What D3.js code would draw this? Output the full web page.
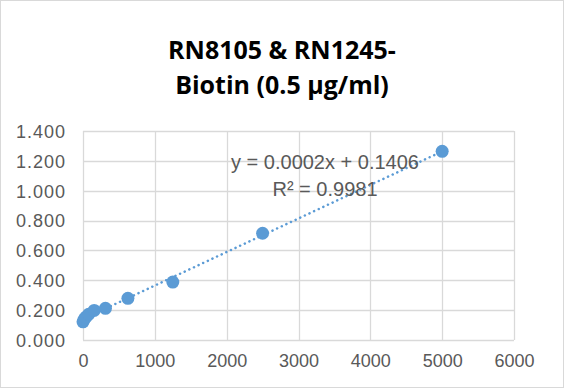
<!DOCTYPE html>
<html>
<head>
<meta charset="utf-8">
<script src="https://cdn.jsdelivr.net/npm/d3@7"></script>
<style>
body { margin: 0; background: #fff; }
</style>
</head>
<body>
<div id="container"></div>
<script>
var concentrations = [0, 19.5, 39, 78, 156, 312.5, 625, 1250, 2500, 5000];
var absorbance = [0.122, 0.140, 0.153, 0.172, 0.198, 0.212, 0.279, 0.388, 0.715, 1.264];
var xTicks = [0, 1000, 2000, 3000, 4000, 5000, 6000];
var yTicks = [0, 0.2, 0.4, 0.6, 0.8, 1.0, 1.2, 1.4];
var titleLines = ["RN8105 & RN1245-", "Biotin (0.5 \u03bcg/ml)"];
var equationLines = ["y = 0.0002x + 0.1406", "R\u00b2 = 0.9981"];

var W = 564, H = 388;
var margin = {top: 131, right: 50, bottom: 48, left: 83},
    width = 514 - margin.left,
    height = 340 - margin.top;

var svg = d3.select("#container")
    .append("svg")
        .attr("width", W)
        .attr("height", H);

// outer chart frame
svg.append("rect")
    .attr("x", 0.5).attr("y", 0.5)
    .attr("width", W - 1).attr("height", H - 1)
    .attr("fill", "#fff")
    .attr("stroke", "#d9d9d9");

svg.selectAll(".title")
    .data(titleLines)
    .enter()
    .append("text")
    .attr("class", "title")
    .attr("x", 282)
    .attr("y", function(d, i) { return 59 + i * 35; })
    .attr("text-anchor", "middle")
    .attr("font-family", "Open Sans, Liberation Sans, sans-serif")
    .attr("font-weight", "bold")
    .attr("font-size", "25px")
    .attr("fill", "#000")
    .text(function(d) { return d; });

var g = svg.append("g")
    .attr("transform", "translate(" + margin.left + "," + margin.top + ")");

var x = d3.scaleLinear().domain([0, 6000]).range([0, width]);
var y = d3.scaleLinear().domain([0, 1.4]).range([height, 0]);

// gridlines
g.selectAll(".hgrid")
    .data(yTicks)
    .enter()
    .append("line")
    .attr("x1", 0).attr("x2", width)
    .attr("y1", function(d) { return Math.round(y(d)) + 0.5; })
    .attr("y2", function(d) { return Math.round(y(d)) + 0.5; })
    .attr("stroke", "#d9d9d9")
    .attr("stroke-width", 1.3);

g.selectAll(".vgrid")
    .data(xTicks)
    .enter()
    .append("line")
    .attr("y1", 0).attr("y2", height)
    .attr("x1", function(d) { return Math.round(x(d)) + 0.5; })
    .attr("x2", function(d) { return Math.round(x(d)) + 0.5; })
    .attr("stroke", "#d9d9d9")
    .attr("stroke-width", 1.3);

// axes (labels only)
var xAxis = g.append("g")
    .attr("transform", "translate(0," + height + ")")
    .call(d3.axisBottom(x).tickValues(xTicks).tickSize(0).tickPadding(14).tickFormat(d3.format("d")));
var yAxis = g.append("g")
    .call(d3.axisLeft(y).tickValues(yTicks).tickSize(0).tickPadding(17).tickFormat(d3.format(".3f")));

[xAxis, yAxis].forEach(function(a) {
    a.select(".domain").remove();
    a.selectAll("text")
        .attr("font-family", "Liberation Sans, Arial, sans-serif")
        .attr("font-size", "18px")
        .attr("fill", "#595959");
});
yAxis.selectAll("text").attr("dy", "0.35em").attr("letter-spacing", "1px");
xAxis.selectAll("text").attr("dy", "0.71em");

// linear trendline via least squares
var n = concentrations.length;
var mx = d3.mean(concentrations), my = d3.mean(absorbance);
var sxy = 0, sxx = 0;
for (var i = 0; i < n; i++) {
    sxy += (concentrations[i] - mx) * (absorbance[i] - my);
    sxx += (concentrations[i] - mx) * (concentrations[i] - mx);
}
var slope = sxy / sxx, intercept = my - slope * mx;
var xMax = d3.max(concentrations);

g.append("line")
    .attr("x1", x(0)).attr("y1", y(intercept))
    .attr("x2", x(xMax)).attr("y2", y(intercept + slope * xMax))
    .attr("stroke", "#5b9bd5")
    .attr("stroke-width", 2.5)
    .attr("stroke-dasharray", "0.1,5")
    .attr("stroke-linecap", "round");

g.selectAll("circle")
    .data(concentrations)
    .enter()
    .append("circle")
    .attr("cx", function(d) { return x(d); })
    .attr("cy", function(d, i) { return y(absorbance[i]); })
    .attr("r", 6.5)
    .attr("fill", "#5b9bd5");

svg.selectAll(".eq")
    .data(equationLines)
    .enter()
    .append("text")
    .attr("class", "eq")
    .attr("x", 325)
    .attr("y", function(d, i) { return 169 + i * 27; })
    .attr("text-anchor", "middle")
    .attr("font-family", "Liberation Sans, Arial, sans-serif")
    .attr("font-size", "20px")
    .attr("fill", "#595959")
    .text(function(d) { return d; });
</script>
</body>
</html>
